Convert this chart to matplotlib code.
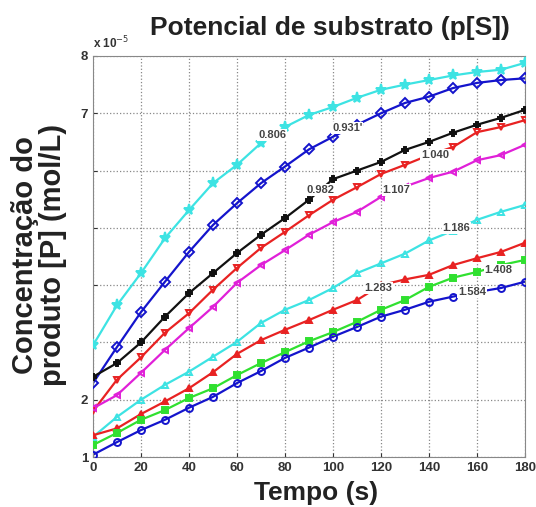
import numpy as np
import matplotlib
matplotlib.use('Agg')
import matplotlib.pyplot as plt

plt.rcParams['font.family'] = ['Liberation Sans', 'DejaVu Sans']

# tempo (s)
t = [0, 10, 20, 30, 40, 50, 60, 70, 80, 90, 100, 110, 120, 130, 140, 150, 160, 170, 180]

# concentracao do produto (x 1e-5 mol/L), uma serie por p[S]
c_0806 = [2.95, 3.65, 4.21, 4.82, 5.31, 5.78, 6.10, 6.48, 6.76, 6.97, 7.11, 7.27, 7.41, 7.50, 7.58, 7.66, 7.72, 7.76, 7.88]
c_0931 = [2.29, 2.92, 3.53, 4.06, 4.58, 5.05, 5.43, 5.78, 6.07, 6.37, 6.59, 6.80, 7.00, 7.18, 7.29, 7.44, 7.53, 7.58, 7.61]
c_0982 = [2.40, 2.64, 3.00, 3.45, 3.86, 4.21, 4.56, 4.88, 5.17, 5.49, 5.85, 6.00, 6.15, 6.36, 6.50, 6.66, 6.80, 6.92, 7.06]
c_1040 = [1.80, 2.35, 2.74, 3.17, 3.51, 3.92, 4.30, 4.65, 4.93, 5.22, 5.49, 5.71, 5.94, 6.10, 6.27, 6.41, 6.67, 6.76, 6.88]
c_1107 = [1.85, 2.08, 2.47, 2.87, 3.25, 3.62, 4.04, 4.35, 4.61, 4.88, 5.10, 5.28, 5.54, 5.72, 5.87, 5.98, 6.18, 6.27, 6.45]
c_1186 = [1.35, 1.70, 2.00, 2.26, 2.49, 2.75, 3.01, 3.34, 3.57, 3.74, 3.95, 4.21, 4.38, 4.55, 4.78, 4.95, 5.14, 5.28, 5.40]
c_1283 = [1.38, 1.50, 1.75, 1.97, 2.20, 2.48, 2.80, 3.04, 3.22, 3.39, 3.57, 3.74, 4.00, 4.10, 4.18, 4.35, 4.47, 4.58, 4.74]
c_1408 = [1.21, 1.42, 1.65, 1.82, 2.03, 2.20, 2.43, 2.64, 2.83, 3.02, 3.18, 3.36, 3.57, 3.74, 3.97, 4.13, 4.23, 4.35, 4.44]
c_1584 = [1.04, 1.26, 1.47, 1.65, 1.86, 2.05, 2.29, 2.50, 2.73, 2.91, 3.10, 3.27, 3.45, 3.57, 3.71, 3.80, 3.88, 3.95, 4.06]

series = [c_0806, c_0931, c_0982, c_1040, c_1107, c_1186, c_1283, c_1408, c_1584]
labels = ['0.806', "0.931'", '0.982', '1.040', '1.107', '1.186', '1.283', '1.408', '1.584']
colors = ['#3de3e3', '#1414cc', '#111111', '#e82222', '#e020d8', '#3de3e3', '#e82222', '#30e030', '#1414cc']
markers = ['*', 'D', 'P', 'v', '<', '^', '^', 's', 'o']
filled = [True, False, True, False, False, False, True, True, False]

# label positions (t, c)
label_t = [74.6, 106, 94.6, 142.5, 126.5, 151.5, 119, 169, 158]
label_c = [6.62, 6.74, 5.66, 6.27, 5.66, 5.00, 3.95, 4.27, 3.88]

fig = plt.figure(figsize=(5.36, 5.07), dpi=100)
ax = fig.add_axes([0.1735, 0.0986, 0.806, 0.791])

for c, col, m, f in zip(series, colors, markers, filled):
    ax.plot(t, c, color=col, linewidth=1.6, zorder=2)
    ax.plot(t, c, linestyle='none', marker=m, markersize=5 if m != '*' else 8,
            markerfacecolor=col if f else 'none', markeredgecolor=col,
            markeredgewidth=1.4, zorder=3)

for lab, lt, lc in zip(labels, label_t, label_c):
    ax.text(lt, lc, lab, fontsize=8, fontweight='bold', color='#444444',
            ha='center', va='center', zorder=4,
            bbox=dict(facecolor='white', edgecolor='none', pad=0.6))

ax.set_xlim(0, 180)
ax.set_ylim(1, 8)
ax.set_xticks(np.arange(0, 181, 20))
ax.set_yticks(np.arange(1, 9))
ax.set_yticklabels(['1', '2', '', '', '', '', '7', '8'])
ax.tick_params(labelsize=9.5, colors='#333333', length=3, direction='in')
for lbl in ax.get_xticklabels() + ax.get_yticklabels():
    lbl.set_fontweight('bold')
ax.grid(True, linestyle=':', color='#888888', linewidth=0.9)
for s in ax.spines.values():
    s.set_color('#888888')

ax.text(0.0, 1.012, r'x 10$^{-5}$', transform=ax.transAxes, fontsize=8.5,
        fontweight='bold', color='#333333', ha='left', va='bottom')

fig.text(0.616, 0.945, 'Potencial de substrato (p[S])', fontsize=19,
         fontweight='bold', ha='center', va='center', color='#222222')
fig.text(0.59, 0.028, 'Tempo (s)', fontsize=19, fontweight='bold',
         ha='center', va='center', color='#222222')
fig.text(0.072, 0.497, 'Concentração do\nproduto [P] (mol/L)', fontsize=21,
         fontweight='bold', rotation=90, ha='center', va='center',
         color='#222222', linespacing=1.0)

fig.savefig('out.png', dpi=100)
